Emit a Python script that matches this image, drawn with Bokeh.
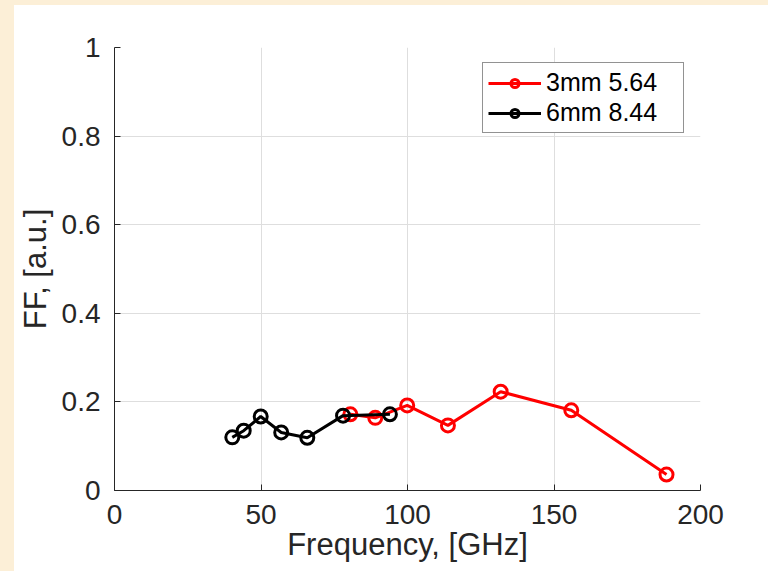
from bokeh.plotting import figure
from bokeh.models import FixedTicker, Legend, LegendItem, Range1d
from bokeh.embed import file_html
from bokeh.resources import INLINE

# ---- data ----
freq_3mm = [80.5, 89.0, 99.9, 113.8, 131.8, 155.9, 188.4]
ff_3mm = [0.172, 0.164, 0.192, 0.147, 0.223, 0.181, 0.036]
freq_6mm = [40.2, 44.1, 49.9, 56.9, 65.8, 78.0, 94.0]
ff_6mm = [0.120, 0.135, 0.167, 0.131, 0.119, 0.169, 0.172]

label_3mm = "3mm 5.64"
label_6mm = "6mm 8.44"

x_ticks = [0, 50, 100, 150, 200]
x_tick_labels = ["0", "50", "100", "150", "200"]
y_ticks = [0, 0.2, 0.4, 0.6, 0.8, 1]
y_tick_labels = ["0", "0.2", "0.4", "0.6", "0.8", "1"]

FONT = "Liberation Sans"
AX = "#262626"

p = figure(width=754, height=560, output_backend="svg", toolbar_location=None,
           x_range=Range1d(0, 200), y_range=Range1d(0, 1),
           min_border_left=100, min_border_right=68, min_border_top=42, min_border_bottom=75)
p.background_fill_color = "white"
p.border_fill_color = "white"
p.outline_line_color = None

for ax, ticks, labels in ((p.xaxis[0], x_ticks, x_tick_labels), (p.yaxis[0], y_ticks, y_tick_labels)):
    ax.ticker = FixedTicker(ticks=ticks)
    ax.major_label_overrides = {t: l for t, l in zip(ticks, labels)}
    ax.axis_line_color = AX
    ax.axis_line_width = 1
    ax.major_tick_line_color = AX
    ax.major_tick_in = 6
    ax.major_tick_out = 0
    ax.minor_tick_line_color = None
    ax.major_label_text_font = FONT
    ax.major_label_text_font_size = "28px"
    ax.major_label_text_color = AX
    ax.axis_label_text_font = FONT
    ax.axis_label_text_font_size = "31px"
    ax.axis_label_text_font_style = "normal"
    ax.axis_label_text_color = AX

p.xaxis.axis_label = "Frequency, [GHz]"
p.yaxis.axis_label = "FF, [a.u.]"
p.xaxis.major_label_standoff = 14
p.yaxis.major_label_standoff = 14
p.xaxis.axis_label_standoff = 0
p.yaxis.axis_label_standoff = 6

p.grid.grid_line_color = "#dedede"
p.grid.grid_line_width = 1

r_line = p.line(freq_3mm, ff_3mm, line_color="#ff0000", line_width=3)
r_pts = p.scatter(freq_3mm, ff_3mm, marker="circle", size=13, fill_color=None,
                  line_color="#ff0000", line_width=3)
b_line = p.line(freq_6mm, ff_6mm, line_color="#000000", line_width=3)
b_pts = p.scatter(freq_6mm, ff_6mm, marker="circle", size=13, fill_color=None,
                  line_color="#000000", line_width=3)

legend = Legend(items=[LegendItem(label=label_3mm, renderers=[r_line, r_pts]),
                       LegendItem(label=label_6mm, renderers=[b_line, b_pts])],
                location=(368, 357))
legend.label_text_font = FONT
legend.label_text_font_size = "25px"
legend.label_text_color = "#000000"
legend.glyph_width = 53
legend.glyph_height = 20
legend.label_standoff = 5
legend.label_width = 132
legend.label_height = 29
legend.padding = 5
legend.spacing = 1
legend.margin = 0
legend.border_line_color = AX
legend.border_line_width = 1
legend.background_fill_color = "white"
legend.background_fill_alpha = 1
p.add_layout(legend, "center")

css = ("<style>html { background: #ffffff !important; overflow: hidden; }"
       " body { margin: 0 !important; padding: 5px 0 0 14px !important; overflow: hidden;"
       " background: linear-gradient(#fcefd7, #fcefd7) left top / 100% 5px no-repeat,"
       " linear-gradient(#fcefd7, #fcefd7) left top / 14px 100% no-repeat, #ffffff !important; }"
       "</style></head>")
html = file_html(p, INLINE)
html = html.replace("</head>", css, 1)
open("out.html", "w").write(html)
